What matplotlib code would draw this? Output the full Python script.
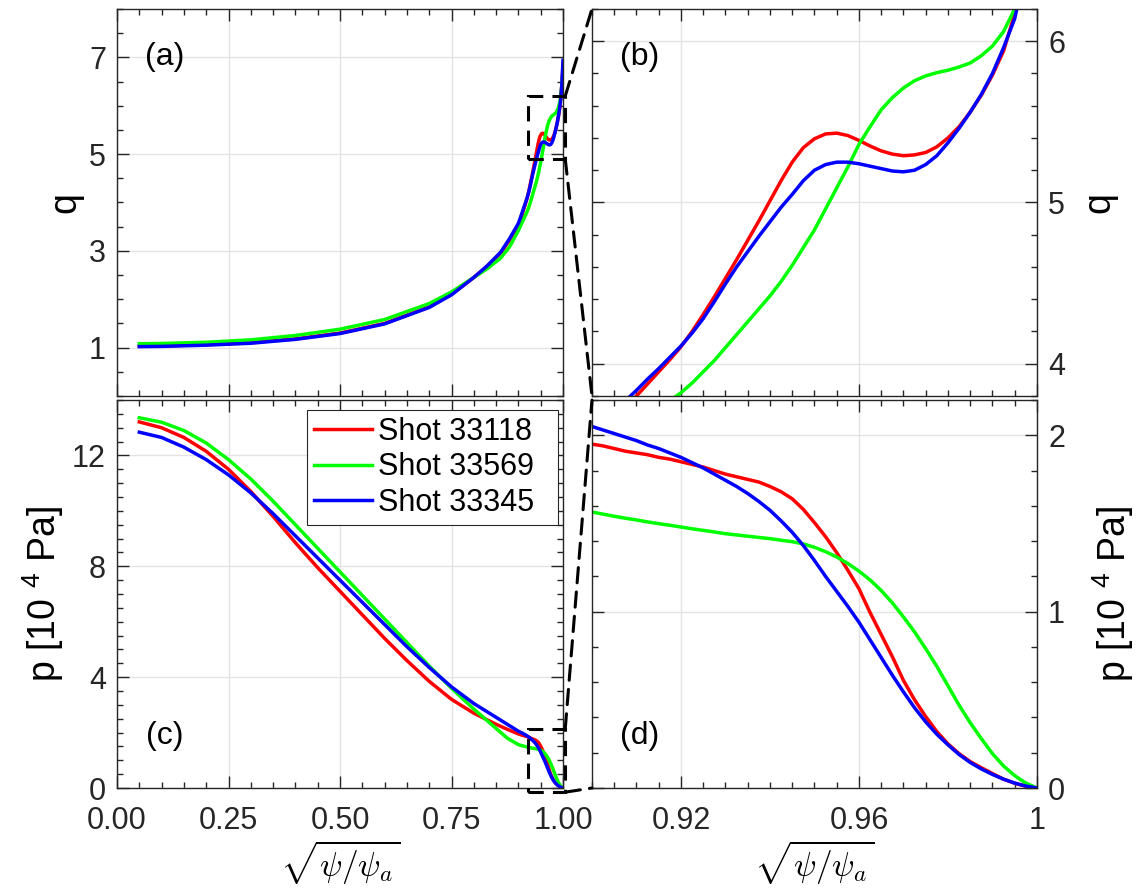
import numpy as np
import matplotlib
matplotlib.use("Agg")
import matplotlib.pyplot as plt
from matplotlib.patches import Rectangle, ConnectionPatch
from matplotlib.ticker import MultipleLocator, FixedLocator, FormatStrFormatter

plt.rcParams['font.family'] = ['Liberation Sans', 'DejaVu Sans']
plt.rcParams['mathtext.fontset'] = 'custom'
plt.rcParams['mathtext.rm'] = 'Liberation Sans'
plt.rcParams['mathtext.it'] = 'Liberation Sans:italic'

# shots, drawn red, green, blue
labels = ['Shot 33118', 'Shot 33569', 'Shot 33345']
colors = ['#ff0000', '#00ff00', '#0000ff']

# sample points in sqrt(psi/psi_a): coarse core part + fine edge part
rho_core_q = [0.05, 0.1, 0.2, 0.3, 0.4, 0.5, 0.6, 0.7, 0.75, 0.8, 0.83, 0.86, 0.88]
rho_core_p = [0.05, 0.1, 0.15, 0.2, 0.25, 0.3, 0.35, 0.4, 0.45, 0.5, 0.55, 0.6, 0.65, 0.7,
              0.75, 0.8, 0.85, 0.875]
rho_edge = [0.9, 0.9025, 0.905, 0.9075, 0.91, 0.9125, 0.915, 0.9175, 0.92, 0.9225,
            0.925, 0.9275, 0.93, 0.9325, 0.935, 0.9375, 0.94, 0.9425, 0.945, 0.9475,
            0.95, 0.9525, 0.955, 0.9575, 0.96, 0.9625, 0.965, 0.9675, 0.97, 0.9725,
            0.975, 0.9775, 0.98, 0.9825, 0.985, 0.9875, 0.99, 0.9925, 0.995, 0.9975, 1.0]

# safety factor q
q_33118 = [1.03, 1.035, 1.06, 1.10, 1.18, 1.30, 1.50, 1.84, 2.10, 2.45, 2.68, 2.95, 3.22,
           3.53, 3.59, 3.655, 3.725, 3.80, 3.875, 3.95, 4.025, 4.105, 4.20,
           4.305, 4.415, 4.53, 4.645, 4.765, 4.885, 5.01, 5.135, 5.25, 5.34,
           5.395, 5.425, 5.43, 5.415, 5.385, 5.35, 5.32, 5.30, 5.29, 5.295,
           5.31, 5.345, 5.40, 5.47, 5.56, 5.665, 5.79, 5.94, 6.17, 6.45, 6.85]
q_33569 = [1.08, 1.085, 1.11, 1.16, 1.25, 1.38, 1.58, 1.91, 2.15, 2.45, 2.63, 2.85, 3.08,
           3.42, 3.47, 3.52, 3.57, 3.62, 3.67, 3.72, 3.77, 3.82, 3.88,
           3.95, 4.02, 4.10, 4.18, 4.26, 4.34, 4.42, 4.51, 4.61, 4.72,
           4.83, 4.96, 5.09, 5.22, 5.36, 5.47, 5.575, 5.65, 5.71, 5.755,
           5.785, 5.805, 5.82, 5.84, 5.865, 5.91, 5.97, 6.06, 6.20, 6.42, 6.75]
q_33345 = [1.02, 1.025, 1.05, 1.09, 1.17, 1.29, 1.49, 1.83, 2.09, 2.45, 2.69, 2.97, 3.25,
           3.57, 3.635, 3.70, 3.77, 3.835, 3.905, 3.97, 4.04, 4.11, 4.19,
           4.28, 4.385, 4.495, 4.60, 4.695, 4.79, 4.88, 4.97, 5.05, 5.135,
           5.20, 5.235, 5.25, 5.25, 5.24, 5.225, 5.21, 5.195, 5.19, 5.20,
           5.235, 5.29, 5.37, 5.46, 5.56, 5.67, 5.80, 5.96, 6.14, 6.45, 6.94]

# pressure in 10^4 Pa
p_33118 = [13.21, 13.0, 12.65, 12.15, 11.5, 10.7, 9.8, 8.85, 7.95, 7.1, 6.25, 5.4, 4.6, 3.85,
           3.2, 2.7, 2.3, 2.12,
           1.95, 1.94, 1.925, 1.91, 1.90, 1.89, 1.875, 1.865, 1.85, 1.835,
           1.82, 1.80, 1.78, 1.765, 1.75, 1.735, 1.71, 1.68, 1.64, 1.58,
           1.505, 1.425, 1.335, 1.235, 1.13, 0.995, 0.87, 0.745, 0.61, 0.50,
           0.405, 0.32, 0.25, 0.195, 0.15, 0.115, 0.082, 0.05, 0.027, 0.01, 0.0]
p_33569 = [13.36, 13.2, 12.9, 12.45, 11.85, 11.15, 10.35, 9.5, 8.65, 7.8, 6.95, 6.1, 5.25, 4.4,
           3.6, 2.85, 2.15, 1.8,
           1.565, 1.553, 1.541, 1.53, 1.52, 1.509, 1.499, 1.49, 1.48, 1.47,
           1.461, 1.452, 1.442, 1.435, 1.428, 1.421, 1.414, 1.405, 1.397, 1.384,
           1.365, 1.34, 1.31, 1.273, 1.23, 1.18, 1.12, 1.05, 0.97, 0.885,
           0.79, 0.69, 0.58, 0.47, 0.37, 0.28, 0.195, 0.125, 0.07, 0.028, 0.0]
p_33345 = [12.84, 12.65, 12.3, 11.85, 11.3, 10.65, 9.9, 9.1, 8.3, 7.5, 6.7, 5.9, 5.1, 4.35,
           3.65, 3.05, 2.55, 2.3,
           2.05, 2.03, 2.01, 1.99, 1.97, 1.945, 1.925, 1.90, 1.875, 1.845,
           1.815, 1.78, 1.745, 1.71, 1.67, 1.625, 1.575, 1.515, 1.45, 1.375,
           1.29, 1.20, 1.115, 1.03, 0.94, 0.84, 0.74, 0.64, 0.545, 0.455,
           0.375, 0.305, 0.245, 0.19, 0.145, 0.108, 0.077, 0.05, 0.028, 0.011, 0.0]

rho_q = rho_core_q + rho_edge
rho_p = rho_core_p + rho_edge
q_all = [q_33118, q_33569, q_33345]
p_all = [p_33118, p_33569, p_33345]

# zoom window marked on the left panels
box_x = (0.922, 1.005)
box_q = (4.9, 6.2)
box_p = (-0.15, 2.13)

fig = plt.figure(figsize=(11.36, 8.88), dpi=100)
ax_a = fig.add_axes([0.1030, 0.5541, 0.3926, 0.4358])
ax_b = fig.add_axes([0.5211, 0.5541, 0.3917, 0.4358])
ax_c = fig.add_axes([0.1030, 0.1126, 0.3926, 0.4369])
ax_d = fig.add_axes([0.5211, 0.1126, 0.3917, 0.4369])

dark = '#262626'
lw = 2.5

def style(ax):
    ax.tick_params(which='both', direction='in', top=True, right=True, left=True, bottom=True,
                   colors=dark, labelsize=22, width=1)
    ax.tick_params(which='major', length=8.5)
    ax.tick_params(which='minor', length=4.5)
    ax.tick_params(axis='y', pad=8)
    ax.tick_params(axis='x', pad=13)
    ax.grid(True, which='major', color='#e3e3e3', lw=1)
    ax.set_axisbelow(True)
    for s in ax.spines.values():
        s.set_color(dark)
        s.set_linewidth(1)

for ax in [ax_a, ax_b]:
    for y, c, l in zip(q_all, colors, labels):
        ax.plot(rho_q, y, color=c, lw=lw, label=l)
for ax in [ax_c, ax_d]:
    for y, c, l in zip(p_all, colors, labels):
        ax.plot(rho_p, y, color=c, lw=lw, label=l)

for ax in [ax_a, ax_b, ax_c, ax_d]:
    style(ax)

# left panels
for ax in [ax_a, ax_c]:
    ax.set_xlim(0, 1)
    ax.xaxis.set_major_locator(MultipleLocator(0.25))
    ax.xaxis.set_minor_locator(MultipleLocator(0.05))
    ax.xaxis.set_major_formatter(FormatStrFormatter('%.2f'))
ax_a.set_ylim(0, 8)
ax_a.yaxis.set_major_locator(FixedLocator([1, 3, 5, 7]))
ax_a.yaxis.set_minor_locator(MultipleLocator(0.5))
ax_a.tick_params(labelbottom=False)
ax_a.set_ylabel('q', fontsize=27, labelpad=4)

ax_c.set_ylim(0, 14)
ax_c.yaxis.set_major_locator(FixedLocator([0, 4, 8, 12]))
ax_c.yaxis.set_minor_locator(MultipleLocator(0.5))
ax_c.set_ylabel('p [10 ${}^{4}$ Pa]', fontsize=27, labelpad=4)

# right (zoomed) panels
for ax in [ax_b, ax_d]:
    ax.set_xlim(0.9, 1.0)
    ax.xaxis.set_major_locator(FixedLocator([0.92, 0.96, 1.0]))
    ax.xaxis.set_minor_locator(MultipleLocator(0.005))
    ax.yaxis.set_label_position('right')
    ax.tick_params(which='both', labelleft=False, labelright=True)
    ax.yaxis.set_minor_locator(MultipleLocator(0.2))
ax_b.set_ylim(3.8, 6.2)
ax_b.yaxis.set_major_locator(FixedLocator([4, 5, 6]))
ax_b.tick_params(labelbottom=False)
ax_b.set_ylabel('q', fontsize=27, labelpad=12)

ax_d.set_ylim(0, 2.2)
ax_d.yaxis.set_major_locator(FixedLocator([0, 1, 2]))
ax_d.set_xticklabels(['0.92', '0.96', '1'])
ax_d.set_ylabel('p [10 ${}^{4}$ Pa]', fontsize=27, labelpad=18)

xlab = r'$\sqrt{\psi/\psi_a}$'
ax_c.set_xlabel(xlab, fontsize=24, math_fontfamily='cm', labelpad=2)
ax_d.set_xlabel(xlab, fontsize=24, math_fontfamily='cm', labelpad=2)

for ax, t, yy in [(ax_a, '(a)', 0.876), (ax_b, '(b)', 0.876), (ax_c, '(c)', 0.134), (ax_d, '(d)', 0.134)]:
    ax.text(0.108, yy, t, transform=ax.transAxes, fontsize=23, ha='center', va='center')

# legend entries get a little trailing room, like the original box
leg = ax_c.legend(ax_c.get_lines(), [l + '  ' for l in labels],
                  loc='upper right', bbox_to_anchor=(0.989, 0.974), borderaxespad=0,
                  fontsize=22, handlelength=1.9, handletextpad=0.2, labelspacing=0.18,
                  borderpad=0.22, fancybox=False, framealpha=1)
leg.get_frame().set_edgecolor(dark)
leg.get_frame().set_linewidth(0.8)

# dashed zoom boxes and connectors
dash = (0, (5, 3))
for ax, by, axz in [(ax_a, box_q, ax_b), (ax_c, box_p, ax_d)]:
    r = Rectangle((box_x[0], by[0]), box_x[1] - box_x[0], by[1] - by[0], fill=False,
                  ec='k', lw=2.2, ls=dash, clip_on=False, zorder=5)
    ax.add_patch(r)
    for yb, ya in [(by[1], 1), (by[0], 0)]:
        con = ConnectionPatch(xyA=(box_x[1], yb), coordsA=ax.transData,
                              xyB=(0, ya), coordsB=axz.transAxes,
                              color='k', lw=2.2, ls=dash)
        fig.add_artist(con)

fig.savefig('out.png', dpi=100)
